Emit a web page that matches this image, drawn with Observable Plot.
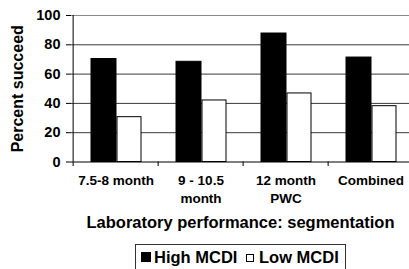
<!DOCTYPE html>
<html>
<head>
<meta charset="utf-8">
<script src="https://cdn.jsdelivr.net/npm/d3@7"></script>
<script src="https://cdn.jsdelivr.net/npm/@observablehq/plot@0.6"></script>
<style>
  html, body { margin: 0; padding: 0; background: #fff; }
  body { width: 409px; height: 269px; overflow: hidden; font-family: "Liberation Sans", Arial, sans-serif; }
  #legend {
    position: absolute; left: 135px; top: 244px; width: 211px; height: 30px;
    border: 1px solid #333; box-sizing: border-box;
    font: bold 16.5px "Liberation Sans", Arial, sans-serif; color: #000;
  }
  #legend .item { position: absolute; top: 3px; white-space: nowrap; line-height: 19px; }
  #legend .sw { position: absolute; box-sizing: border-box; }
</style>
</head>
<body>
<div id="chart"></div>
<div id="legend"></div>
<script>
const categories = ["7.5-8 month", "9 - 10.5 month", "12 month PWC", "Combined"];
const tickLabels = ["7.5-8 month", "9 - 10.5\nmonth", "12 month\nPWC", "Combined"];
const seriesNames = ["High MCDI", "Low MCDI"];
const highMCDI = [70.3, 68.4, 87.7, 71.3];
const lowMCDI = [30.6, 42, 46.8, 38.1];
const yTicks = [0, 20, 40, 60, 80, 100];
const yLabel = "Percent succeed";
const xLabel = "Laboratory performance: segmentation";

const rowsHigh = categories.map((c, i) => ({category: c, series: seriesNames[0], value: highMCDI[i]}));
const rowsLow = categories.map((c, i) => ({category: c, series: seriesNames[1], value: lowMCDI[i]}));

const font = "Liberation Sans, Arial, sans-serif";
const xRange = [71, 414];
const step = (xRange[1] - xRange[0]) / categories.length;

const chart = Plot.plot({
  width: 409,
  height: 240,
  marginLeft: 71,
  marginRight: 0,
  marginTop: 15,
  marginBottom: 78.5,
  style: {fontFamily: font, background: "#fff", overflow: "visible"},
  x: {domain: categories, range: xRange, padding: 0, axis: null},
  y: {domain: [0, 100], axis: null},
  marks: [
    // gridlines
    Plot.ruleY(yTicks.filter(d => d > 0), {y: d => d, stroke: d => d === 100 ? "#8a8a8a" : "#3a3a3a", strokeWidth: 1}),
    // bars
    Plot.barY(rowsHigh, {x: "category", y: "value", fill: "#000", stroke: "#000", insetLeft: 18, insetRight: 42}),
    Plot.barY(rowsLow, {x: "category", y: "value", fill: "#fff", stroke: "#000", insetLeft: 44, insetRight: 17}),
    // axes lines
    Plot.ruleY([0], {stroke: "#000"}),
    Plot.ruleX([categories[0]], {x: d => d, dx: -step / 2, y1: 0, y2: 100, stroke: "#000"}),
    // x boundary ticks
    Plot.axisX({ticks: categories, tickSize: 4.5, tickFormat: () => "", label: null, dx: -step / 2, stroke: "#000", strokeWidth: 1}),
    // y axis ticks and labels
    Plot.axisY({ticks: yTicks, tickSize: 5, tickPadding: 6, fontSize: 14.5, fontWeight: "bold", fill: "#000", stroke: "#000", label: null}),
    // x tick labels
    Plot.text(categories, {x: d => d, y: 0, text: (d, i) => tickLabels[i], dy: 10, lineAnchor: "top", lineHeight: 1.35, fontSize: 13.5, fontWeight: "bold", fill: "#000"}),
    // y label
    Plot.text([yLabel], {frameAnchor: "left", textAnchor: "middle", rotate: -90, dx: -53.5, fontSize: 16, fontWeight: "bold", fill: "#000"}),
    // x label
    Plot.text([xLabel], {frameAnchor: "bottom", dy: 61, lineAnchor: "middle", fontSize: 16.5, fontWeight: "bold", fill: "#000"})
  ]
});
document.getElementById("chart").appendChild(chart);

// legend
const legend = document.getElementById("legend");
const items = [
  {name: seriesNames[0], fill: "#000", size: 10, swLeft: 5, swTop: 7, textLeft: 18},
  {name: seriesNames[1], fill: "#fff", size: 8, swLeft: 110, swTop: 9, textLeft: 123}
];
items.forEach(it => {
  const sw = document.createElement("span");
  sw.className = "sw";
  sw.style.left = it.swLeft + "px";
  sw.style.top = it.swTop + "px";
  sw.style.width = it.size + "px";
  sw.style.height = it.size + "px";
  sw.style.background = it.fill;
  sw.style.border = "1px solid #000";
  legend.appendChild(sw);
  const t = document.createElement("span");
  t.className = "item";
  t.style.left = it.textLeft + "px";
  t.textContent = it.name;
  legend.appendChild(t);
});
</script>
</body>
</html>
